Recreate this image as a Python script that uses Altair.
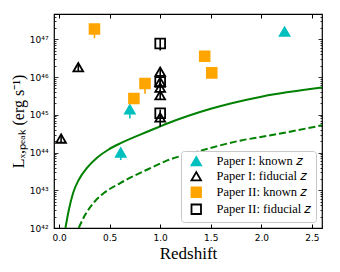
import altair as alt
import pandas as pd

# ---------------- data ----------------
# Paper I, known z (filled cyan triangles)
p1_known_z = [0.61, 0.70, 2.23]
p1_known_logL = [44.00, 45.14, 47.20]
p1_known_lo = [43.80, 44.90, 47.20]
p1_known_hi = [44.00, 45.14, 47.20]

# Paper I, fiducial z (open black triangles)
p1_fid_z = [0.02, 0.19, 1.0, 1.0, 1.0, 1.0, 1.0]
p1_fid_logL = [44.37, 46.26, 46.14, 45.87, 45.72, 45.52, 44.93]
p1_fid_lo = [44.27, 46.16, 46.04, 45.77, 45.62, 45.42, 44.68]
p1_fid_hi = [44.47, 46.36, 46.24, 45.97, 45.82, 45.62, 45.03]

# Paper II, known z (filled orange squares)
p2_known_z = [0.35, 0.74, 0.85, 1.44, 1.51]
p2_known_logL = [47.27, 45.43, 45.83, 46.55, 46.11]
p2_known_lo = [47.03, 45.43, 45.56, 46.55, 46.11]
p2_known_hi = [47.27, 45.43, 45.96, 46.55, 46.11]

# Paper II, fiducial z (open black squares)
p2_fid_z = [1.0, 1.0, 1.0]
p2_fid_logL = [46.89, 45.87, 45.04]
p2_fid_lo = [46.70, 45.77, 44.94]
p2_fid_hi = [47.02, 45.97, 45.14]

# detection-limit curves
solid_z = [0.063, 0.096, 0.138, 0.195, 0.276, 0.375, 0.49, 0.62, 0.89, 1.07, 1.50, 2.00, 2.60]
solid_logL = [42.0, 42.47, 42.92, 43.28, 43.59, 43.86, 44.08, 44.26, 44.57, 44.77, 45.16, 45.48, 45.72]
dashed_z = [0.194, 0.25, 0.342, 0.44, 0.605, 0.89, 1.07, 1.35, 1.80, 2.08, 2.60]
dashed_logL = [42.0, 42.31, 42.67, 42.92, 43.19, 43.57, 43.79, 44.01, 44.32, 44.45, 44.72]

series_names = ["Paper I: known 𝑧", "Paper I: fiducial 𝑧",
                "Paper II: known 𝑧", "Paper II: fiducial 𝑧"]
series_fill = ["#00BFBF", "transparent", "#FFA500", "transparent"]
series_stroke = ["#00BFBF", "black", "#FFA500", "black"]
series_shape = ["triangle-up", "triangle-up", "square", "square"]

x_ticks = [0.0, 0.5, 1.0, 1.5, 2.0, 2.5]
y_major = [1e42, 1e43, 1e44, 1e45, 1e46, 1e47]
y_all = [m * 10.0 ** n for n in range(42, 48) for m in range(1, 10) if m * 10.0 ** n <= 10 ** 47.67]

# ---------------- build tables ----------------
groups = [
    (series_names[0], p1_known_z, p1_known_logL, p1_known_lo, p1_known_hi, "#00BFBF"),
    (series_names[1], p1_fid_z, p1_fid_logL, p1_fid_lo, p1_fid_hi, "black"),
    (series_names[2], p2_known_z, p2_known_logL, p2_known_lo, p2_known_hi, "#FFA500"),
    (series_names[3], p2_fid_z, p2_fid_logL, p2_fid_lo, p2_fid_hi, "black"),
]
pts_rows, err_rows = [], []
for name, zs, ls, los, his, col in groups:
    for z, l, lo, hi in zip(zs, ls, los, his):
        pts_rows.append({"series": name, "z": z, "L": 10 ** l})
        if hi > lo:
            err_rows.append({"z": z, "lo": 10 ** lo, "hi": 10 ** hi, "ecolor": col})
pts = pd.DataFrame(pts_rows)
errs = pd.DataFrame(err_rows)
solid = pd.DataFrame({"z": solid_z, "L": [10 ** v for v in solid_logL]})
dashed = pd.DataFrame({"z": dashed_z, "L": [10 ** v for v in dashed_logL]})

W, H = 268, 214
xscale = alt.Scale(domain=[-0.05, 2.6], nice=False, zero=False)
yscale = alt.Scale(type="log", domain=[1e42, 10 ** 47.67], nice=False)

major_test = "abs(log(datum.value)/LN10 - round(log(datum.value)/LN10)) < 0.01"
tick_cond = {"condition": {"test": major_test, "value": 4}, "value": 2}

sup = "['⁰','¹','²','³','⁴','⁵','⁶','⁷','⁸','⁹']"
label_expr = "'10⁴' + " + sup + "[round(log(datum.value)/LN10) - 40]"

x_bottom = alt.Axis(orient="bottom", offset=-4, domain=False, tickSize=4, tickColor="black",
                    values=x_ticks, format=".1f", labelFont="DejaVu Sans", labelFontSize=9,
                    labelColor="black", labelPadding=5, grid=False,
                    title="Redshift", titleFont="Liberation Serif", titleFontSize=17,
                    titleFontWeight="normal", titleColor="black", titlePadding=3)
x_top = alt.Axis(orient="top", offset=-4, domain=False, tickSize=4, tickColor="black",
                 values=x_ticks, labels=False, grid=False, title=None)
y_labels = alt.Axis(orient="left", domain=False, ticks=False, values=y_major,
                    labelExpr=label_expr, labelFont="DejaVu Sans", labelFontSize=9,
                    labelColor="black", labelPadding=6, grid=False,
                    title="Lₓ,ₚₑₐₖ (erg s⁻¹)", titleFont="Liberation Serif",
                    titleFontSize=16, titleFontWeight="normal", titleColor="black",
                    titlePadding=3)
y_left_ticks = alt.Axis(orient="right", offset=-W, domain=False, labels=False, values=y_all,
                        tickSize=tick_cond, tickColor="black", tickWidth=0.8, grid=False, title=None)
y_right_ticks = alt.Axis(orient="left", offset=-W, domain=False, labels=False, values=y_all,
                         tickSize=tick_cond, tickColor="black", tickWidth=0.8, grid=False, title=None)

solid_layer = alt.Chart(solid).mark_line(color="#008000", strokeWidth=2, clip=True,
                                         interpolate="monotone").encode(
    x=alt.X("z:Q", scale=xscale, axis=x_bottom),
    y=alt.Y("L:Q", scale=yscale, axis=y_labels),
)
dashed_layer = alt.Chart(dashed).mark_line(color="#008000", strokeWidth=2, clip=True,
                                           strokeDash=[7, 3], interpolate="monotone").encode(
    x=alt.X("z:Q", scale=xscale, axis=x_top),
    y=alt.Y("L:Q", scale=yscale, axis=y_left_ticks),
)
err_layer = alt.Chart(errs).mark_rule(strokeWidth=1.6).encode(
    x=alt.X("z:Q", scale=xscale, axis=None),
    y=alt.Y("lo:Q", scale=yscale, axis=y_right_ticks),
    y2="hi:Q",
    stroke=alt.Stroke("ecolor:N", scale=None),
)
legend = alt.Legend(title=None, orient="bottom-right", offset=6, labelFont="Liberation Serif",
                    labelFontSize=12.5, labelColor="black", fillColor="white",
                    strokeColor="#c8c8c8", cornerRadius=3, padding=4, rowPadding=-1,
                    symbolOffset=5, labelOffset=14, symbolStrokeWidth=1.8, symbolSize=90,
                    labelLimit=200)
pt_layer = alt.Chart(pts).mark_point(size=95, strokeWidth=1.8, opacity=1).encode(
    x=alt.X("z:Q", scale=xscale, axis=None),
    y=alt.Y("L:Q", scale=yscale, axis=None),
    shape=alt.Shape("series:N", scale=alt.Scale(domain=series_names, range=series_shape), legend=legend),
    fill=alt.Fill("series:N", scale=alt.Scale(domain=series_names, range=series_fill), legend=legend),
    stroke=alt.Stroke("series:N", scale=alt.Scale(domain=series_names, range=series_stroke), legend=legend),
)

chart = alt.layer(solid_layer, dashed_layer, err_layer, pt_layer).resolve_axis(
    x="independent", y="independent"
).properties(
    width=W, height=H,
    autosize=alt.AutoSizeParams(type="none"),
    padding={"left": 46, "top": 6, "right": 10, "bottom": 42},
).configure_view(stroke="black", strokeWidth=1.2)

chart.save("out.html", embed_options={"renderer": "svg", "actions": False})
